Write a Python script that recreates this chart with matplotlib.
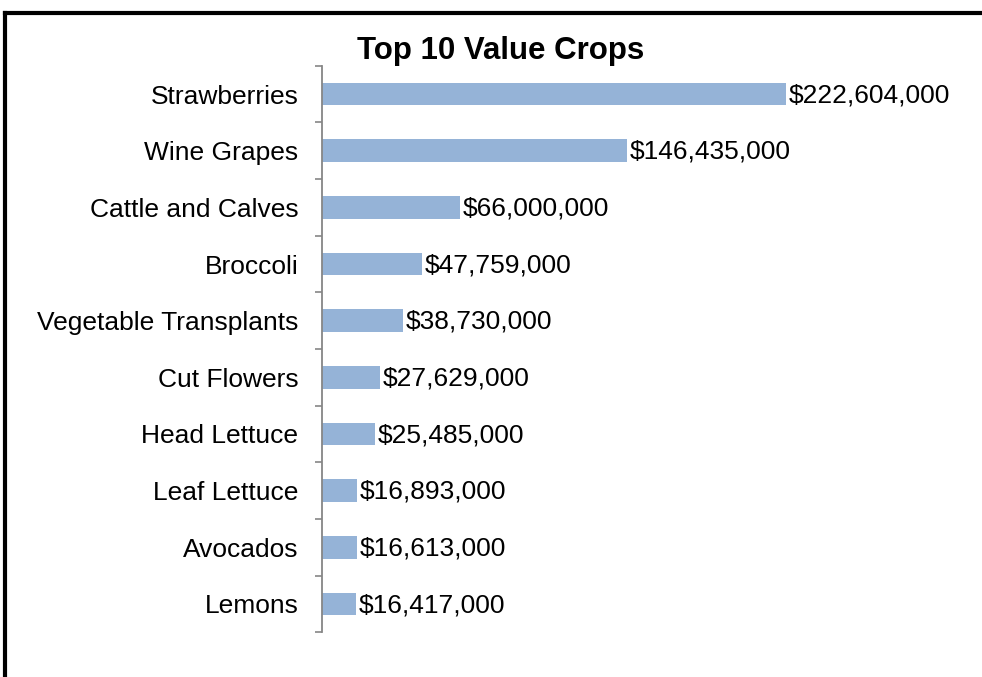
import matplotlib
matplotlib.use("Agg")
import matplotlib.pyplot as plt
from matplotlib.lines import Line2D
from matplotlib.ticker import FixedLocator

crops = ["Strawberries", "Wine Grapes", "Cattle and Calves", "Broccoli",
         "Vegetable Transplants", "Cut Flowers", "Head Lettuce",
         "Leaf Lettuce", "Avocados", "Lemons"]
values = [222604000, 146435000, 66000000, 47759000, 38730000,
          27629000, 25485000, 16893000, 16613000, 16417000]

plt.rcParams["font.family"] = ["Liberation Sans", "DejaVu Sans"]

W, H = 982, 677
fig = plt.figure(figsize=(W / 100, H / 100), dpi=100)
ax = fig.add_axes([322 / W, 1 - 632.3 / H, (843 - 322) / W, (632.3 - 65.7) / H])

pos = list(range(len(crops)))
ax.barh(pos, values, height=0.4, color="#95B3D7")
ax.set_ylim(len(crops) - 0.5, -0.5)
ax.set_xlim(0, 250e6)

for p, v in zip(pos, values):
    ax.text(v + 1.4e6, p + 0.02, f"${v:,.0f}", va="center", ha="left",
            fontsize=19, color="black", clip_on=False)

ax.set_yticks(pos)
ax.set_yticklabels(crops, fontsize=19)
ax.tick_params(axis="y", which="major", length=0, pad=17)
ax.yaxis.set_minor_locator(FixedLocator([i - 0.5 for i in range(len(crops) + 1)]))
ax.tick_params(axis="y", which="minor", length=5, width=1.2, color="#868686")
ax.set_xticks([])

for s in ["top", "right", "bottom"]:
    ax.spines[s].set_visible(False)
ax.spines["left"].set_color("#868686")
ax.spines["left"].set_linewidth(1.3)

fig.text(501 / W, 1 - 51 / H, "Top 10 Value Crops", ha="center", va="center",
         fontsize=22.5, fontweight="bold")

# outer frame (top and left edges)
fig.add_artist(Line2D([5 / W, 1.0], [1 - 12.5 / H, 1 - 12.5 / H],
                      transform=fig.transFigure, color="black", linewidth=3,
                      solid_capstyle="projecting"))
fig.add_artist(Line2D([5 / W, 5 / W], [0.0, 1 - 12.5 / H],
                      transform=fig.transFigure, color="black", linewidth=3,
                      solid_capstyle="projecting"))

fig.savefig("out.png", dpi=100)
